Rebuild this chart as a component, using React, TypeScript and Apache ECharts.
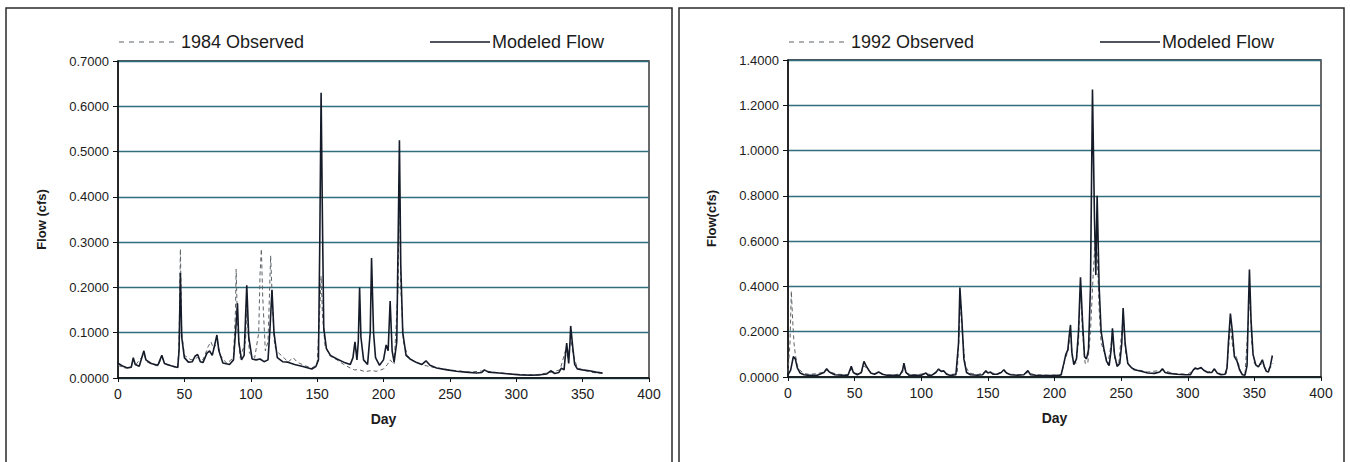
import React, { useEffect, useRef } from "react";
import * as echarts from "echarts";

// ---------- 1984 panel ----------
const mod84Days = [0, 3, 7, 10, 11.5, 13, 16, 19.5, 21, 25, 30, 33, 35, 40, 45, 46, 47, 48, 50, 53, 56, 58, 60, 62, 64, 67, 69, 71, 73, 74.5, 76, 79, 84, 87, 89, 90, 91, 93, 95, 97, 98.5, 101, 104, 107, 110, 113, 114.5, 116, 117.5, 120, 124, 128, 133, 140, 146, 149, 151, 152, 153, 154, 155, 157, 160, 165, 170, 175, 177, 178.5, 180, 181, 182, 183, 185, 188, 190, 191, 192.5, 194, 197, 200, 202, 203.5, 205, 206.5, 208, 210, 211, 212, 213, 214.5, 217, 220, 225, 229, 232, 235, 240, 248, 255, 262, 270, 274, 276, 279, 287, 295, 303, 311, 318, 323, 326, 329, 332, 334, 336, 337, 338, 339.5, 340.5, 341, 342.5, 344, 346, 350, 355, 360, 365];
const mod84Vals = [0.033, 0.027, 0.022, 0.024, 0.045, 0.030, 0.026, 0.060, 0.040, 0.032, 0.028, 0.050, 0.032, 0.027, 0.023, 0.060, 0.232, 0.090, 0.045, 0.035, 0.036, 0.048, 0.052, 0.036, 0.034, 0.055, 0.060, 0.050, 0.075, 0.095, 0.060, 0.033, 0.030, 0.040, 0.120, 0.165, 0.080, 0.040, 0.050, 0.205, 0.090, 0.042, 0.040, 0.042, 0.036, 0.040, 0.110, 0.195, 0.100, 0.045, 0.036, 0.035, 0.030, 0.025, 0.020, 0.025, 0.040, 0.300, 0.630, 0.350, 0.110, 0.065, 0.050, 0.042, 0.035, 0.030, 0.045, 0.080, 0.040, 0.080, 0.200, 0.090, 0.040, 0.030, 0.100, 0.265, 0.100, 0.045, 0.028, 0.040, 0.073, 0.060, 0.170, 0.060, 0.035, 0.080, 0.300, 0.525, 0.250, 0.100, 0.050, 0.042, 0.034, 0.030, 0.038, 0.028, 0.022, 0.018, 0.015, 0.013, 0.011, 0.012, 0.018, 0.013, 0.011, 0.009, 0.007, 0.006, 0.007, 0.009, 0.016, 0.010, 0.012, 0.022, 0.018, 0.050, 0.077, 0.032, 0.080, 0.115, 0.070, 0.030, 0.020, 0.018, 0.016, 0.013, 0.011];

const obs84Days = [0, 5, 10, 11.5, 13, 19.5, 22, 30, 33, 36, 45, 46, 47, 48, 50, 55, 60, 64, 68, 70, 72, 75, 77, 82, 87, 88.5, 89, 90, 92, 96, 97, 99, 103, 106, 107, 108, 109, 111, 113, 115, 116.5, 118, 121, 125, 128, 132, 135, 140, 146, 150, 152, 153, 154, 156, 160, 165, 170, 175, 178, 182, 186, 190, 195, 200, 203, 205, 208, 211, 212, 213, 215, 218, 222, 228, 235, 245, 255, 265, 276, 285, 300, 315, 325, 333, 337, 339, 341, 343, 346, 352, 358, 365];
const obs84Vals = [0.028, 0.022, 0.025, 0.040, 0.028, 0.052, 0.035, 0.026, 0.045, 0.030, 0.022, 0.080, 0.285, 0.100, 0.050, 0.040, 0.045, 0.040, 0.070, 0.080, 0.065, 0.080, 0.050, 0.032, 0.045, 0.150, 0.240, 0.120, 0.045, 0.080, 0.150, 0.055, 0.045, 0.100, 0.230, 0.285, 0.180, 0.060, 0.080, 0.270, 0.150, 0.070, 0.055, 0.045, 0.035, 0.045, 0.035, 0.028, 0.022, 0.030, 0.150, 0.225, 0.140, 0.070, 0.048, 0.040, 0.030, 0.022, 0.018, 0.018, 0.014, 0.016, 0.015, 0.020, 0.030, 0.040, 0.030, 0.200, 0.450, 0.200, 0.080, 0.050, 0.038, 0.030, 0.025, 0.020, 0.016, 0.013, 0.016, 0.012, 0.008, 0.007, 0.012, 0.018, 0.060, 0.045, 0.090, 0.050, 0.022, 0.016, 0.012, 0.010];

// ---------- 1992 panel ----------
const mod92Days = [0, 2, 4, 5.5, 7, 9, 12, 16, 22, 27, 29, 31, 35, 40, 45, 47.5, 49, 52, 55, 57, 59, 62, 65, 68, 71, 75, 80, 84, 86, 87, 88.5, 91, 96, 100, 103.5, 105, 108, 111, 113, 115, 117, 119, 122, 126, 128, 129, 130.5, 132, 134, 137, 142, 146, 148.5, 150, 152, 154, 157, 160, 162, 164, 167, 172, 177, 180, 182, 186, 192, 198, 203, 205, 207, 208.5, 210, 211, 212, 213, 214.5, 216.5, 218, 219.5, 221, 222.5, 224, 225.5, 227, 228.5, 230, 231, 232, 233.5, 235, 237, 239, 241, 242.5, 243.5, 245, 247, 249, 250.5, 251.5, 253, 255, 258, 260, 265, 270, 275, 279, 281, 283, 286, 292, 298, 302, 304, 305.5, 307.5, 310, 312, 315, 318, 320, 322, 325, 328, 329.5, 330.5, 332, 333.5, 335, 337, 339, 341, 343, 344.5, 345.5, 346.3, 347.5, 349, 351, 353, 355, 356, 357.5, 359, 360.5, 362, 363.5];
const mod92Vals = [0.010, 0.030, 0.090, 0.080, 0.040, 0.018, 0.010, 0.007, 0.008, 0.020, 0.036, 0.022, 0.010, 0.008, 0.008, 0.047, 0.020, 0.010, 0.020, 0.069, 0.045, 0.018, 0.012, 0.022, 0.012, 0.007, 0.007, 0.008, 0.030, 0.061, 0.020, 0.007, 0.007, 0.008, 0.018, 0.008, 0.008, 0.020, 0.035, 0.025, 0.027, 0.012, 0.007, 0.010, 0.150, 0.395, 0.250, 0.080, 0.020, 0.010, 0.008, 0.010, 0.028, 0.018, 0.022, 0.012, 0.012, 0.020, 0.032, 0.018, 0.010, 0.008, 0.010, 0.028, 0.010, 0.008, 0.006, 0.006, 0.007, 0.010, 0.060, 0.100, 0.120, 0.180, 0.230, 0.110, 0.055, 0.080, 0.200, 0.440, 0.250, 0.090, 0.080, 0.120, 0.400, 1.270, 0.700, 0.450, 0.800, 0.400, 0.200, 0.127, 0.070, 0.050, 0.120, 0.215, 0.100, 0.047, 0.060, 0.150, 0.305, 0.150, 0.060, 0.040, 0.032, 0.025, 0.018, 0.016, 0.022, 0.036, 0.020, 0.016, 0.012, 0.010, 0.010, 0.030, 0.040, 0.035, 0.042, 0.030, 0.020, 0.020, 0.036, 0.018, 0.010, 0.012, 0.040, 0.150, 0.280, 0.200, 0.090, 0.070, 0.030, 0.010, 0.008, 0.050, 0.300, 0.475, 0.250, 0.100, 0.054, 0.045, 0.065, 0.076, 0.045, 0.025, 0.022, 0.050, 0.095];

const obs92Days = [0, 1.5, 2.5, 3.5, 4.5, 5.5, 7, 9, 12, 16, 22, 27, 29, 32, 38, 45, 47.5, 50, 55, 57, 60, 65, 68, 72, 80, 86, 87, 89, 95, 103.5, 108, 113, 117, 121, 127, 128.5, 129.5, 131, 133, 136, 142, 148.5, 152, 157, 162, 167, 175, 180, 185, 195, 205, 208, 210, 212, 213.5, 216, 218, 219.5, 221, 223, 225, 227, 229, 230.5, 232, 233.5, 235, 238, 240, 243.5, 245.5, 248, 251.5, 253.5, 256, 260, 270, 281, 290, 300, 305.5, 310, 315, 320, 325, 329, 332, 334, 337, 340, 343, 345.5, 346.5, 348, 350, 353, 356, 359, 362, 364];
const obs92Vals = [0.020, 0.150, 0.380, 0.250, 0.150, 0.100, 0.050, 0.030, 0.015, 0.012, 0.015, 0.022, 0.030, 0.020, 0.012, 0.010, 0.035, 0.015, 0.018, 0.050, 0.030, 0.015, 0.020, 0.010, 0.008, 0.020, 0.045, 0.015, 0.010, 0.015, 0.010, 0.030, 0.022, 0.010, 0.015, 0.200, 0.340, 0.180, 0.050, 0.018, 0.010, 0.022, 0.018, 0.015, 0.025, 0.012, 0.010, 0.020, 0.010, 0.008, 0.008, 0.080, 0.110, 0.200, 0.080, 0.060, 0.150, 0.400, 0.200, 0.060, 0.060, 0.200, 0.450, 0.600, 0.550, 0.300, 0.150, 0.100, 0.055, 0.180, 0.070, 0.050, 0.260, 0.100, 0.050, 0.035, 0.022, 0.030, 0.015, 0.012, 0.035, 0.038, 0.022, 0.030, 0.012, 0.015, 0.220, 0.120, 0.080, 0.020, 0.015, 0.250, 0.380, 0.150, 0.060, 0.050, 0.060, 0.030, 0.040, 0.060];

const xTicks = { min: 0, max: 400, interval: 50 };
const yLeft = { min: 0, max: 0.7, interval: 0.1 };
const yRight = { min: 0, max: 1.4, interval: 0.2 };

const zip = (d: number[], v: number[]) => d.map((x, i) => [x, v[i]]);

const FONT = "Liberation Sans";
const TXT = "#1c1c1c";
const GRIDC = "#2f6e7c";
const MODC = "#151b29";
const OBSC = "#5d6266";

function xAxisCfg(gi: number) {
  return {
    gridIndex: gi,
    type: "value",
    ...xTicks,
    name: "Day",
    nameLocation: "middle",
    nameGap: 34,
    nameTextStyle: { fontFamily: FONT, fontWeight: "bold", fontSize: 14, color: TXT },
    axisLine: { show: true, onZero: false, lineStyle: { color: "#111", width: 1.5 } },
    axisTick: { show: true, length: 4, lineStyle: { color: "#111" } },
    axisLabel: { fontFamily: FONT, fontSize: 14, color: TXT, margin: 9 },
    splitLine: { show: false },
  };
}

function yAxisCfg(gi: number, r: any, name: string, gap: number) {
  return {
    gridIndex: gi,
    type: "value",
    ...r,
    name,
    nameLocation: "middle",
    nameGap: gap,
    nameTextStyle: { fontFamily: FONT, fontWeight: "bold", fontSize: 13, color: TXT },
    axisLine: { show: true, lineStyle: { color: "#111", width: 1.5 } },
    axisTick: { show: true, length: 5, lineStyle: { color: "#111" } },
    axisLabel: {
      fontFamily: FONT,
      fontSize: 13,
      color: TXT,
      margin: 9,
      formatter: (v: number) => v.toFixed(4),
    },
    splitLine: { show: true, lineStyle: { color: GRIDC, width: 1.3 } },
  };
}

// legend entries drawn as graphic: [x of line start, label, dashed]
function legendItem(x: number, label: string, dashed: boolean) {
  return [
    {
      type: "line",
      shape: { x1: x, y1: 42, x2: x + 60, y2: 42 },
      style: dashed
        ? { stroke: OBSC, lineWidth: 1.2, lineDash: [5, 5] }
        : { stroke: MODC, lineWidth: 1.6 },
      silent: true,
    },
    {
      type: "text",
      x: x + 62,
      y: 42,
      style: { text: label, fontFamily: FONT, fontSize: 18, fill: TXT, verticalAlign: "middle" },
      silent: true,
    },
  ];
}

export default function App() {
  const ref = useRef<HTMLDivElement>(null);
  useEffect(() => {
    document.body.style.margin = "0";
    const chart = echarts.init(ref.current!, undefined, { renderer: "svg" });
    chart.setOption({
      animation: false,
      backgroundColor: "#ffffff",
      grid: [
        { left: 118, top: 61, width: 531, height: 317, show: true, borderColor: "#1a1a1a", borderWidth: 1.3 },
        { left: 788, top: 60, width: 533, height: 317, show: true, borderColor: "#1a1a1a", borderWidth: 1.3 },
      ],
      xAxis: [xAxisCfg(0), xAxisCfg(1)],
      yAxis: [yAxisCfg(0, yLeft, "Flow (cfs)", 70), yAxisCfg(1, yRight, "Flow(cfs)", 70)],
      graphic: [
        { type: "rect", shape: { x: 6, y: 8, width: 666, height: 470 }, style: { fill: "none", stroke: "#2a2a2a", lineWidth: 1.5 }, silent: true },
        { type: "rect", shape: { x: 679, y: 8, width: 665, height: 470 }, style: { fill: "none", stroke: "#2a2a2a", lineWidth: 1.5 }, silent: true },
        ...legendItem(119, "1984 Observed", true),
        ...legendItem(430, "Modeled Flow", false),
        ...legendItem(789, "1992 Observed", true),
        ...legendItem(1100, "Modeled Flow", false),
      ],
      series: [
        { type: "line", name: "1984 Observed", xAxisIndex: 0, yAxisIndex: 0, data: zip(obs84Days, obs84Vals), symbol: "none", color: OBSC, lineStyle: { type: [4, 3], width: 1, color: OBSC }, z: 2 },
        { type: "line", name: "Modeled Flow", xAxisIndex: 0, yAxisIndex: 0, data: zip(mod84Days, mod84Vals), symbol: "none", color: MODC, lineStyle: { width: 1.6, color: MODC }, z: 3 },
        { type: "line", name: "1992 Observed", xAxisIndex: 1, yAxisIndex: 1, data: zip(obs92Days, obs92Vals), symbol: "none", color: OBSC, lineStyle: { type: [4, 3], width: 1, color: OBSC }, z: 2 },
        { type: "line", name: "Modeled Flow (1992)", xAxisIndex: 1, yAxisIndex: 1, data: zip(mod92Days, mod92Vals), symbol: "none", color: MODC, lineStyle: { width: 1.6, color: MODC }, z: 3 },
      ],
    });
    return () => chart.dispose();
  }, []);
  return <div ref={ref} style={{ width: 1350, height: 462, overflow: "hidden" }} />;
}
